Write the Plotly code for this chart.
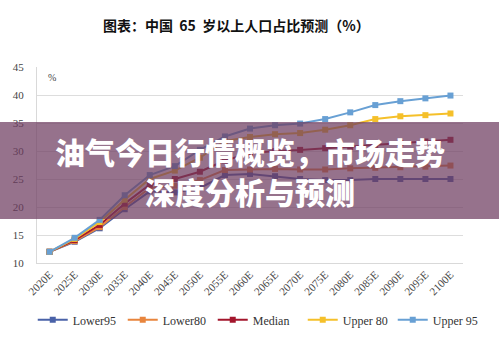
import plotly.graph_objects as go

years = ["2020E", "2025E", "2030E", "2035E", "2040E", "2045E", "2050E", "2055E", "2060E",
         "2065E", "2070E", "2075E", "2080E", "2085E", "2090E", "2095E", "2100E"]
lower95 = [12.0, 13.8, 16.2, 19.6, 22.8, 22.6, 23.4, 25.7, 25.9, 25.5, 25.0, 24.8, 24.8, 25.0, 25.0, 25.0, 25.0]
lower80 = [12.0, 13.9, 16.4, 20.0, 23.4, 23.8, 24.8, 26.6, 26.7, 26.8, 26.7, 26.7, 26.9, 27.0, 27.1, 27.2, 27.4]
median = [12.0, 14.1, 16.8, 20.6, 24.0, 25.0, 26.3, 28.3, 29.6, 30.0, 30.2, 30.5, 30.7, 31.1, 31.4, 31.7, 32.0]
upper80 = [12.0, 14.3, 17.3, 21.3, 25.0, 26.5, 28.8, 31.8, 32.5, 33.0, 33.2, 33.8, 34.6, 35.7, 36.2, 36.4, 36.7]
upper95 = [12.0, 14.5, 17.7, 22.1, 25.7, 27.3, 30.2, 32.6, 34.0, 34.6, 34.9, 35.7, 36.9, 38.2, 38.9, 39.4, 39.9]

series = [
    ("Lower95", lower95, "#4A62A8"),
    ("Lower80", lower80, "#E8853D"),
    ("Median", median, "#A3162C"),
    ("Upper 80", upper80, "#F5C02A"),
    ("Upper 95", upper95, "#68A0D4"),
]

serif = "Liberation Serif, Times New Roman, serif"
cjk = "Noto Sans CJK SC, sans-serif"

fig = go.Figure()
for name, vals, col in series:
    fig.add_trace(go.Scatter(
        x=years, y=vals, name=name, mode="lines+markers",
        line=dict(color=col, width=2),
        marker=dict(symbol="square", size=6, color=col),
    ))

fig.update_layout(
    width=499, height=342,
    margin=dict(l=37, r=36, t=67, b=79, autoexpand=False),
    paper_bgcolor="white", plot_bgcolor="white",
    showlegend=True,
    legend=dict(orientation="h", x=-0.01, xanchor="left", y=-0.29, yanchor="middle",
                font=dict(family=serif, size=12, color="#333333"),
                entrywidth=45, entrywidthmode="pixels", itemwidth=30, tracegroupgap=0),
    xaxis=dict(type="category", range=[-0.5, 16.5], tickangle=-45, automargin=False,
               tickfont=dict(family=serif, size=11, color="#444444"),
               showgrid=False, showline=True, linecolor="#D9D9D9", linewidth=1,
               ticks="", mirror=False),
    yaxis=dict(range=[10, 45], dtick=5, automargin=False,
               tickfont=dict(family=serif, size=11, color="#444444"),
               showgrid=True, gridcolor="#DDDDDD", gridwidth=1,
               showline=True, linecolor="#D9D9D9", linewidth=1, zeroline=False,
               ticklabelstandoff=10),
)

fig.add_annotation(text="<b>图表：中国  65  岁以上人口占比预测（%）</b>", xref="paper", yref="paper",
                   x=0.469, y=1.214, showarrow=False, xanchor="center", yanchor="middle",
                   font=dict(family=cjk, size=14, color="#111111"))
fig.add_annotation(text="%", xref="paper", yref="paper", x=0.035, y=0.944, showarrow=False,
                   xanchor="center", yanchor="middle", font=dict(family=serif, size=10, color="#444444"))

# banner overlay
fig.add_shape(type="rect", xref="paper", yref="paper", x0=-0.1, x1=1.1, y0=0.2245, y1=0.719,
              fillcolor="rgba(110,60,95,0.72)", line=dict(width=0), layer="above")
fig.add_annotation(text="油气今日行情概览，市场走势", xref="paper", yref="paper",
                   x=0.5, y=0.571, showarrow=False, xanchor="center", yanchor="middle",
                   font=dict(family=cjk, size=30, color="white", weight=900))
fig.add_annotation(text="深度分析与预测", xref="paper", yref="paper",
                   x=0.5, y=0.367, showarrow=False, xanchor="center", yanchor="middle",
                   font=dict(family=cjk, size=30, color="white", weight=900))

fig.write_html("out.html")
